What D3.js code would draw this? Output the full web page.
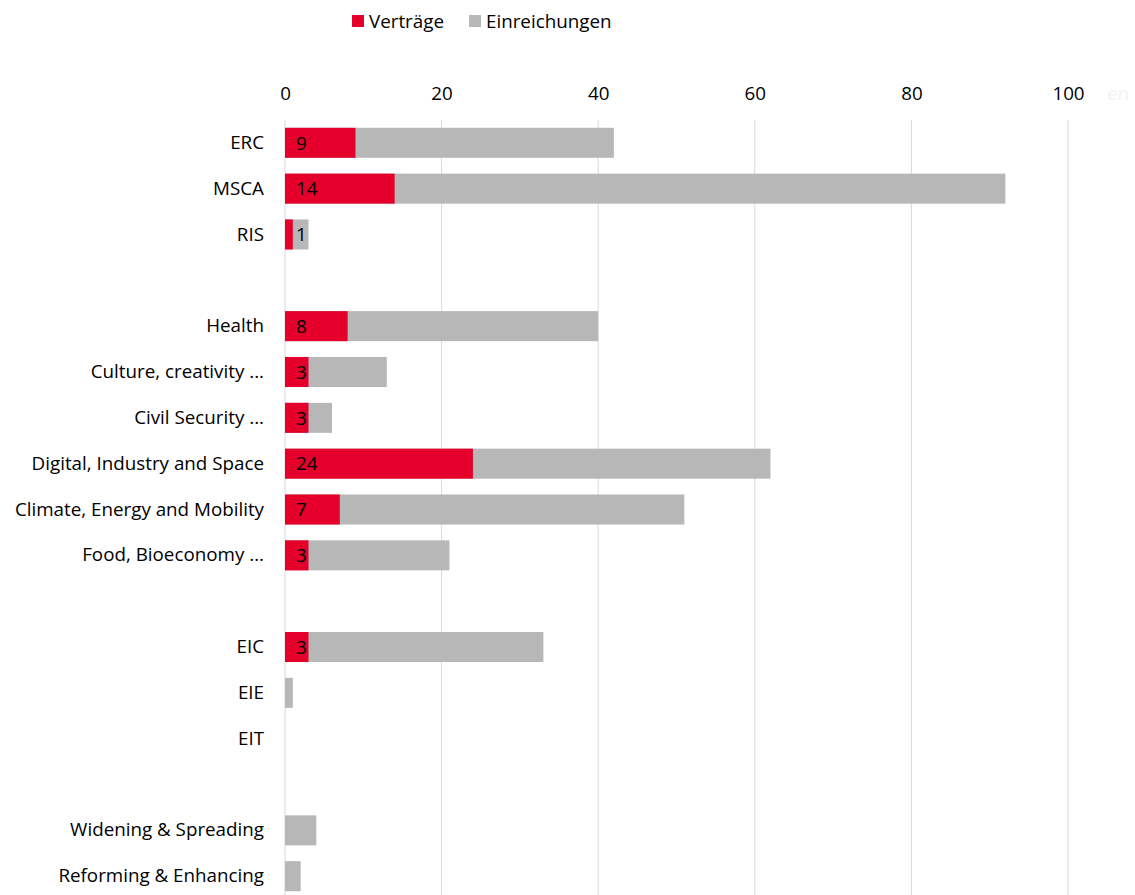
<!DOCTYPE html>
<html>
<head>
<meta charset="utf-8">
<script src="https://cdn.jsdelivr.net/npm/d3@7"></script>
<style>
  body { margin: 0; background: #fff; }
  text { font-family: "Open Sans", "Noto Sans", sans-serif; fill: #000; }
</style>
</head>
<body>
<div id="chart"></div>
<script>
// categories top to bottom, empty strings are spacer rows
const categories = ["ERC", "MSCA", "RIS", "", "Health", "Culture, creativity ...", "Civil Security ...",
  "Digital, Industry and Space", "Climate, Energy and Mobility", "Food, Bioeconomy ...", " ",
  "EIC", "EIE", "EIT", "  ", "Widening & Spreading", "Reforming & Enhancing"]
const vertraege = [9, 14, 1, null, 8, 3, 3, 24, 7, 3, null, 3, 0, 0, null, 0, 0]
const einreichungen = [42, 92, 3, null, 40, 13, 6, 62, 51, 21, null, 33, 1, 0, null, 4, 2]
const ticks = [0, 20, 40, 60, 80, 100]
const seriesNames = ["Verträge", "Einreichungen"]
const colors = ["#e4002b", "#b7b7b7"]

const width = 1135, height = 895
const fs = "18.8px"
const svg = d3.select("#chart").append("svg")
    .attr("width", width)
    .attr("height", height)

let x = d3.scaleLinear().domain([0, 100]).range([285, 1068])
let y = d3.scaleBand().domain(categories).range([120, 899]).paddingInner(0.345).paddingOuter(0.17)

// grid
svg.append("g").selectAll("line")
    .data(ticks)
    .enter().append("line")
    .attr("x1", d => x(d)).attr("x2", d => x(d))
    .attr("y1", 120).attr("y2", 895)
    .attr("stroke", "#d9d9d9").attr("stroke-width", 1)

// top axis labels
let xAxis = d3.axisTop(x).tickValues(ticks).tickSize(0).tickPadding(0)
let ax = svg.append("g").attr("transform", "translate(0, 100)").call(xAxis)
ax.select(".domain").remove()
ax.selectAll("text").style("font-size", fs).attr("font-family", null)

// faint leftover text
svg.append("text").attr("x", 1107).attr("y", 100).style("font-size", fs)
    .style("fill", "#f2f2f2").text("en")

// category labels
let yAxis = d3.axisLeft(y).tickSize(0).tickPadding(21)
let ay = svg.append("g").attr("transform", `translate(${x(0)}, 0)`).call(yAxis)
ay.select(".domain").remove()
ay.selectAll("text").style("font-size", fs).attr("font-family", null)

const rows = categories.map((c, i) => ({cat: c, v: vertraege[i], e: einreichungen[i]}))
    .filter(d => d.e !== null)

svg.selectAll(".bar-e")
    .data(rows.filter(d => d.e > 0))
    .enter().append("rect")
    .attr("class", "bar-e")
    .attr("x", x(0))
    .attr("y", d => y(d.cat))
    .attr("width", d => x(d.e) - x(0))
    .attr("height", y.bandwidth())
    .attr("fill", colors[1])

svg.selectAll(".bar-v")
    .data(rows.filter(d => d.v > 0))
    .enter().append("rect")
    .attr("class", "bar-v")
    .attr("x", x(0))
    .attr("y", d => y(d.cat))
    .attr("width", d => x(d.v) - x(0))
    .attr("height", y.bandwidth())
    .attr("fill", colors[0])

svg.selectAll(".lbl")
    .data(rows.filter(d => d.v > 0))
    .enter().append("text")
    .attr("class", "lbl")
    .attr("x", x(0) + 11)
    .attr("y", d => y(d.cat) + y.bandwidth() / 2)
    .attr("dy", "0.36em")
    .style("font-size", fs)
    .text(d => d.v)

// legend
const legend = svg.append("g")
let lx = [352, 469]
seriesNames.forEach((name, i) => {
    legend.append("rect").attr("x", lx[i]).attr("y", 15).attr("width", 12).attr("height", 12).attr("fill", colors[i])
    legend.append("text").attr("x", lx[i] + 17).attr("y", 21).attr("dy", "0.36em")
        .style("font-size", fs).text(name)
})
</script>
</body>
</html>
